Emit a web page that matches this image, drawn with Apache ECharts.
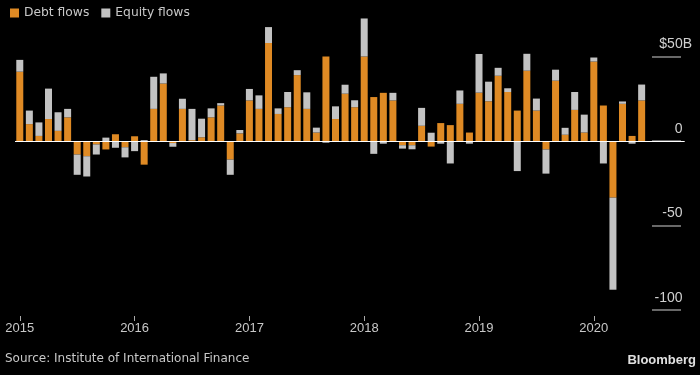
<!DOCTYPE html>
<html>
<head>
<meta charset="utf-8">
<style>
  html, body { margin: 0; padding: 0; background: #000; }
  #chart { width: 700px; height: 375px; }
</style>
<script src="https://cdn.jsdelivr.net/npm/echarts@6/dist/echarts.min.js"></script>
</head>
<body>
<div id="chart"></div>
<script>
// monthly flows, Jan 2015 .. Jun 2020, $ billions
const years = ["2015", "2016", "2017", "2018", "2019", "2020"];

// month slots on the axis run on to Oct 2020 (empty room on the right)
const months = [];
for (let y = 2015; y <= 2020; y++) {
  for (let m = 1; m <= 12; m++) {
    if (months.length < 70) months.push(y + "-" + String(m).padStart(2, "0"));
  }
}

const debtFlows = [
  41, 10, 3, 13, 6, 14, -8, -9, -2, -5, 4, -3.7,
  2.8, -14, 19, 34, -1.2, 19, 0.5, 2.2, 14, 21, -11, 4.5,
  24, 19, 58, 16, 20, 39, 19, 5, 50, 13, 28, 20,
  50, 26, 28.5, 24, -2.5, -2.5, 9, -3.3, 10.6, 9.4, 22, 5,
  28.6, 23.5, 38.6, 29, 18, 41.6, 18, -5, 35.7, 3.7, 18.4, 5,
  47, 21, -33.5, 22, 3, 24
];

const equityFlows = [
  7, 8, 8, 18, 11, 5, -12, -12, -6, 2, -4, -6,
  -6, 0.5, 19, 6, -2.2, 6, 18.5, 11, 5.3, 1.4, -9, 2,
  6.8, 8, 9.4, 3.3, 9, 2.9, 9.8, 2.9, -1, 7.5, 5.3, 4.1,
  22.5, -7.6, -1.6, 4.5, -2, -2.4, 10.6, 4.9, -1.6, -13.3, 7.9, -1.6,
  22.9, 11.6, 4.7, 2.2, -17.8, 10, 7.1, -14.3, 6.5, 4.1, 10.6, 10.6,
  2.4, -13.3, -54.5, 1.4, -1.6, 9.4
];

const axisFont = "'Liberation Sans', sans-serif";
const textFont = "'DejaVu Sans', sans-serif";

const chart = echarts.init(document.getElementById("chart"));

chart.setOption({
  backgroundColor: "#000",
  animation: false,
  legend: {
    left: 5,
    top: 2,
    itemWidth: 9,
    itemHeight: 9,
    itemGap: 12,
    icon: "rect",
    textStyle: { color: "#c8c8c8", fontSize: 12.3, fontFamily: textFont },
    data: ["Debt flows", "Equity flows"],
  },
  // top sits above the canvas so the 100 tick falls off-screen
  grid: { left: 15, right: 15.3, top: -28, bottom: 65, outerBoundsMode: "none", containLabel: false },
  xAxis: {
    type: "category",
    data: months,
    offset: 6,
    axisLine: { show: false, onZero: false },
    axisTick: {
      show: true,
      alignWithLabel: true,
      interval: (i) => i % 12 === 0,
      length: 5,
      lineStyle: { color: "#aaa", width: 1 },
    },
    axisLabel: {
      interval: (i) => i % 12 === 0,
      formatter: (v) => v.slice(0, 4),
      color: "#c8c8c8",
      fontSize: 13,
      fontFamily: axisFont,
      margin: 6,
    },
  },
  yAxis: {
    type: "value",
    position: "right",
    offset: -3.7,
    min: -100,
    max: 100,
    interval: 50,
    axisLine: { show: false },
    splitLine: { show: false },
    axisTick: {
      show: true,
      inside: true,
      length: 29,
      lineStyle: { color: "#8a8a8a", width: 1.5 },
    },
    axisLabel: {
      inside: true,
      margin: -11,
      verticalAlign: "bottom",
      padding: [0, 0, 5, 0],
      color: "#d0d0d0",
      fontSize: 14,
      fontFamily: axisFont,
      formatter: (v) => (v === 50 ? "$50B" : v + "{h| }"),
      rich: {
        h: { width: 9.5, fontSize: 14 },
      },
    },
  },
  series: [
    {
      name: "Debt flows",
      type: "bar",
      stack: "flows",
      barWidth: 7,
      itemStyle: { color: "#df8a24" },
      data: debtFlows,
      markLine: {
        silent: true,
        symbol: "none",
        label: { show: false },
        lineStyle: { color: "#ffffff", width: 1, type: "solid" },
        data: [{ yAxis: 0 }],
      },
    },
    {
      name: "Equity flows",
      type: "bar",
      stack: "flows",
      barWidth: 7,
      itemStyle: { color: "#c3c3c3" },
      data: equityFlows,
    },
  ],
  graphic: [
    {
      type: "text",
      left: 5,
      top: 353,
      style: {
        text: "Source: Institute of International Finance",
        fill: "#c8c8c8",
        font: "12px " + textFont,
      },
    },
    {
      type: "text",
      right: 4,
      top: 354,
      style: {
        text: "Bloomberg",
        fill: "#e0e0e0",
        font: "bold 13px 'Liberation Sans', sans-serif",
      },
    },
  ],
});
</script>
</body>
</html>
